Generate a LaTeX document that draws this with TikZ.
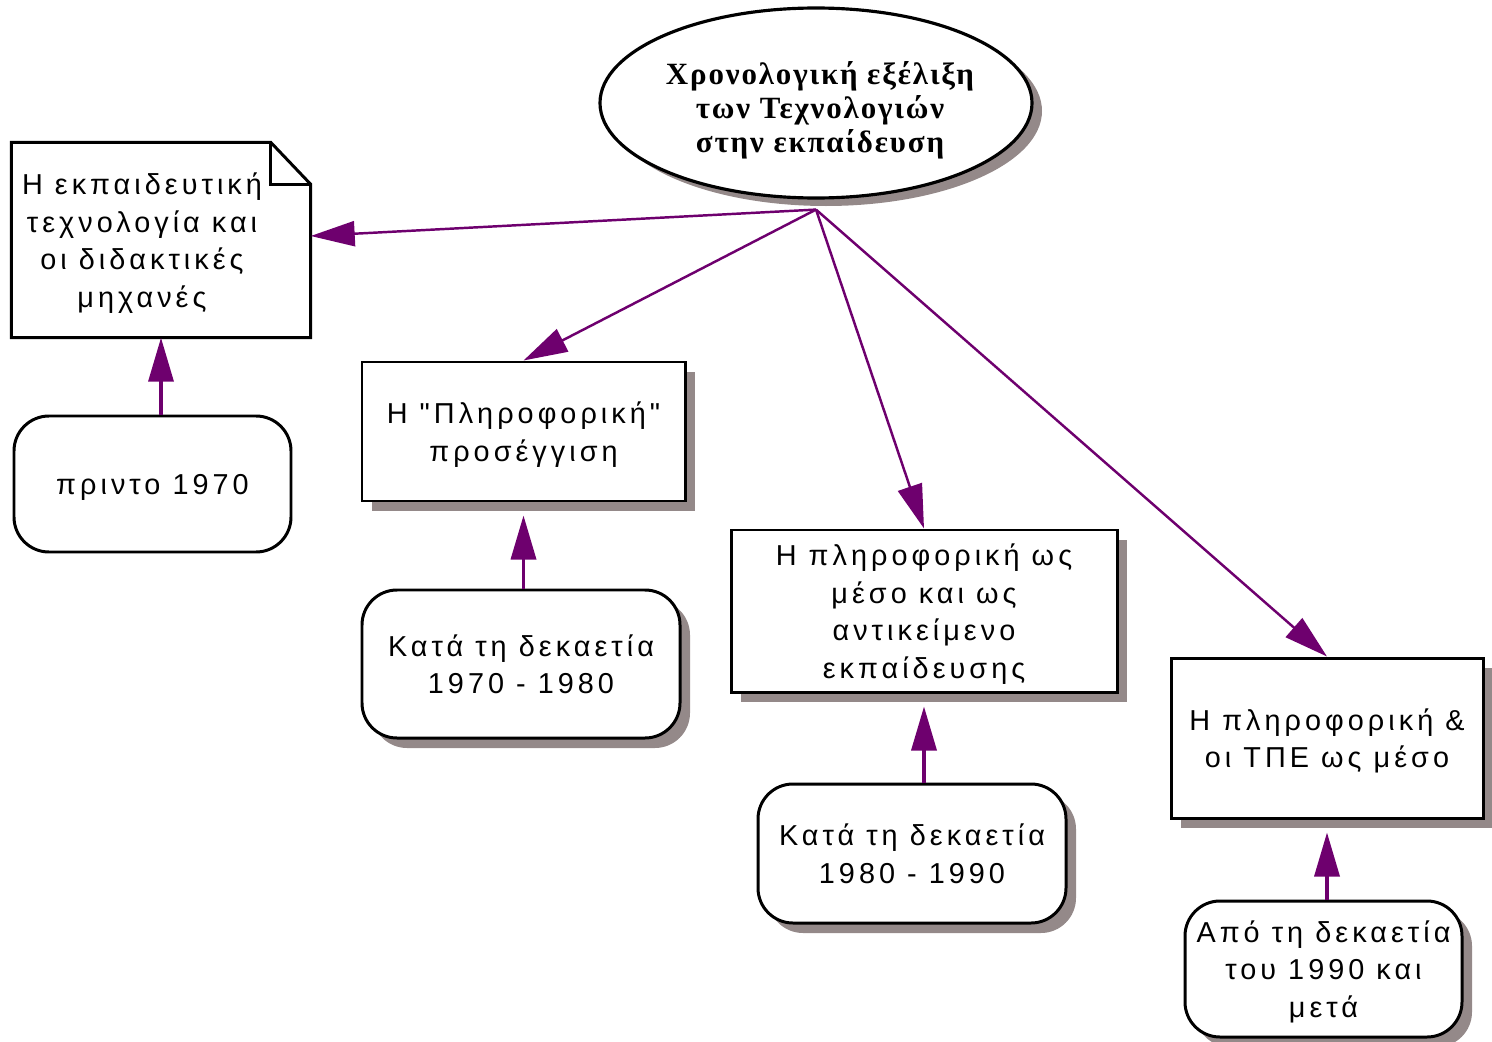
\documentclass[tikz,border=0pt]{standalone}
\usepackage{fontspec}
\setmainfont[LetterSpace=14, Ligatures=TeXOff]{Liberation Sans}
\newfontfamily\titlefont[LetterSpace=6]{Liberation Serif}
\usetikzlibrary{arrows.meta,shapes.geometric,shadows}
\definecolor{linkpurple}{RGB}{110,0,110}
\definecolor{shadowgrey}{RGB}{148,137,137}

\begin{document}
\begin{tikzpicture}[every node/.style={font=\fontsize{8.2}{10.7}\selectfont, align=center, inner sep=0pt, text depth=0pt},
  shade/.style={drop shadow={shadow xshift=0.1cm, shadow yshift=-0.1cm, fill=shadowgrey, opacity=1}},
  topic/.style={draw, line width=0.85pt, fill=white},
  era/.style={draw, line width=0.85pt, fill=white, rounded corners=0.35cm},
  link/.style={draw=linkpurple, line width=0.7pt, -{Triangle[length=4.4mm, width=2.5mm]}},
  uplink/.style={link, line width=1pt}]
  \useasboundingbox (0,0) rectangle (14.92,-10.42);
  \node[ellipse, draw, line width=0.9pt, fill=white, minimum width=4.32cm, minimum height=1.9cm,
        drop shadow={shadow xshift=0.1cm, shadow yshift=-0.08cm, fill=shadowgrey, opacity=1}] (title) at (8.16,-1.03) {};
  \node[font=\titlefont\bfseries\fontsize{8.8}{9.8}\selectfont] (titletext) at (8.2,-1.07)
        {Χρονολογική εξέλιξη\\των Τεχνολογιών\\ στην εκπαίδευση};
  \coordinate (hub) at ([yshift=-0.1cm]title.south);

  % the dog-eared note on the left
  \node[minimum width=2.98cm, minimum height=1.94cm] (tech) at (1.61,-2.40) {};
  \draw[line width=0.85pt] (tech.south west) |- ([xshift=-0.4cm]tech.north east)
    -- ([yshift=-0.42cm]tech.north east) |- cycle;
  \draw[line width=0.85pt] ([xshift=-0.4cm]tech.north east) |- ([yshift=-0.42cm]tech.north east);
  \node (techtext) at ([xshift=-0.19cm]tech.center) {Η εκπαιδευτική\\τεχνολογία και\\οι διδακτικές\\μηχανές};

  \node[topic, shade, minimum width=3.23cm, minimum height=1.39cm] (info) at (5.235,-4.315) {Η "Πληροφορική"\\προσέγγιση};
  \node[topic, shade, minimum width=3.86cm, minimum height=1.62cm] (media) at (9.24,-6.11) {Η πληροφορική ως\\μέσο και ως\\αντικείμενο\\εκπαίδευσης};
  \node[topic, shade, minimum width=3.12cm, minimum height=1.60cm] (ict) at (13.27,-7.38) {Η πληροφορική \&\\οι ΤΠΕ ως μέσο};

  \node[era, minimum width=2.77cm, minimum height=1.36cm] (pre70) at (1.525,-4.84) {πριντο 1970};
  \node[era, shade, minimum width=3.18cm, minimum height=1.48cm] (dec70) at (5.21,-6.64) {Κατά τη δεκαετία\\1970 - 1980};
  \node[era, shade, minimum width=3.08cm, minimum height=1.39cm] (dec80) at (9.12,-8.535) {Κατά τη δεκαετία\\1980 - 1990};
  \node[era, shade, minimum width=2.77cm, minimum height=1.36cm] (dec90) at (13.235,-9.69) {Από τη δεκαετία\\του 1990 και\\μετά};

  \draw[link] (hub) -- ([yshift=0.04cm]tech.east);
  \draw[link] (hub) -- (info.north);
  \draw[link] (hub) -- (media.north);
  \draw[link] (hub) -- (ict.north);

  \draw[uplink] (pre70.north -| tech.south) -- (tech.south);
  \draw[uplink] (dec70.north -| info.south) -- ([yshift=-0.13cm]info.south);
  \draw[uplink] (dec80.north -| media.south) -- ([yshift=-0.13cm]media.south);
  \draw[uplink] (dec90.north -| ict.south) -- ([yshift=-0.13cm]ict.south);
\end{tikzpicture}
\end{document}
